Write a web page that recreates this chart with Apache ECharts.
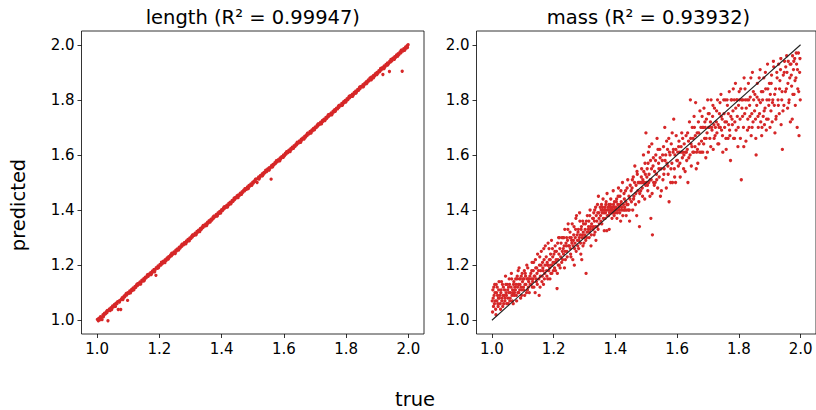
<!DOCTYPE html>
<html>
<head>
<meta charset="utf-8">
<script src="https://cdn.jsdelivr.net/npm/echarts@6/dist/echarts.min.js"></script>
<style>html,body{margin:0;padding:0;background:#fff}#c{width:816px;height:410px}</style>
</head>
<body>
<div id="c"></div>
<script>
const titles = ["length (R\u00b2 = 0.99947)", "mass (R\u00b2 = 0.93932)"];
const xLabel = "true";
const yLabel = "predicted";
const tickValues = [1.0, 1.2, 1.4, 1.6, 1.8, 2.0];
const identityLine = [[1, 1], [2, 2]];

const lengthPoints = [
[1.001,1.003],[1.004,0.998],[1.006,1.007],[1.009,1.005],[1.011,1.013],[1.014,1.010],[1.016,1.002],[1.019,1.020],[1.022,1.018],[1.024,1.026],[1.027,1.023],[1.030,1.031],[1.032,1.028],[1.035,0.998],[1.037,1.036],[1.040,1.041],[1.042,1.035],[1.045,1.046],[1.048,1.045],[1.050,1.052],[1.053,1.049],[1.056,1.057],[1.058,1.053],[1.061,1.062],[1.064,1.060],[1.066,1.067],[1.068,1.039],[1.071,1.070],[1.074,1.072],[1.076,1.039],[1.078,1.076],[1.081,1.082],[1.084,1.080],[1.087,1.088],[1.089,1.085],[1.092,1.093],[1.095,1.091],[1.098,1.072],[1.099,1.100],[1.102,1.098],[1.105,1.106],[1.108,1.104],[1.111,1.112],[1.113,1.108],[1.116,1.117],[1.119,1.115],[1.122,1.123],[1.124,1.119],[1.127,1.128],[1.130,1.126],[1.133,1.134],[1.136,1.131],[1.138,1.139],[1.141,1.137],[1.144,1.145],[1.147,1.142],[1.150,1.151],[1.152,1.147],[1.155,1.156],[1.158,1.154],[1.161,1.162],[1.164,1.159],[1.166,1.167],[1.169,1.165],[1.172,1.173],[1.175,1.170],[1.178,1.179],[1.180,1.176],[1.183,1.184],[1.186,1.182],[1.189,1.163],[1.190,1.191],[1.193,1.188],[1.196,1.197],[1.199,1.195],[1.202,1.203],[1.205,1.200],[1.208,1.209],[1.210,1.206],[1.213,1.214],[1.216,1.212],[1.219,1.220],[1.222,1.217],[1.225,1.226],[1.227,1.223],[1.230,1.231],[1.233,1.229],[1.236,1.237],[1.239,1.234],[1.241,1.242],[1.244,1.240],[1.247,1.248],[1.250,1.245],[1.253,1.254],[1.255,1.251],[1.258,1.259],[1.261,1.257],[1.264,1.265],[1.267,1.262],[1.270,1.271],[1.272,1.268],[1.275,1.276],[1.278,1.274],[1.281,1.282],[1.284,1.279],[1.287,1.288],[1.289,1.285],[1.292,1.293],[1.295,1.291],[1.298,1.299],[1.301,1.296],[1.304,1.305],[1.306,1.302],[1.309,1.310],[1.312,1.308],[1.315,1.316],[1.318,1.313],[1.321,1.322],[1.323,1.319],[1.326,1.327],[1.329,1.325],[1.332,1.333],[1.335,1.330],[1.338,1.339],[1.340,1.336],[1.343,1.344],[1.346,1.342],[1.349,1.350],[1.352,1.347],[1.355,1.356],[1.357,1.353],[1.360,1.361],[1.363,1.359],[1.366,1.367],[1.369,1.364],[1.372,1.373],[1.374,1.370],[1.377,1.378],[1.380,1.376],[1.383,1.384],[1.386,1.381],[1.389,1.390],[1.391,1.387],[1.394,1.395],[1.397,1.393],[1.400,1.401],[1.403,1.398],[1.406,1.407],[1.408,1.404],[1.411,1.412],[1.414,1.410],[1.417,1.418],[1.420,1.415],[1.423,1.424],[1.425,1.421],[1.428,1.429],[1.431,1.427],[1.434,1.435],[1.437,1.432],[1.440,1.441],[1.442,1.438],[1.445,1.446],[1.448,1.444],[1.450,1.452],[1.451,1.447],[1.454,1.455],[1.457,1.453],[1.460,1.461],[1.463,1.458],[1.466,1.467],[1.468,1.464],[1.471,1.472],[1.474,1.470],[1.477,1.478],[1.480,1.475],[1.483,1.484],[1.485,1.481],[1.488,1.489],[1.491,1.487],[1.494,1.495],[1.497,1.492],[1.500,1.501],[1.502,1.498],[1.505,1.506],[1.508,1.504],[1.511,1.512],[1.514,1.500],[1.516,1.514],[1.519,1.520],[1.522,1.517],[1.525,1.526],[1.528,1.524],[1.531,1.532],[1.534,1.529],[1.536,1.537],[1.539,1.535],[1.542,1.543],[1.545,1.540],[1.548,1.549],[1.551,1.546],[1.553,1.554],[1.556,1.552],[1.559,1.512],[1.560,1.561],[1.562,1.557],[1.565,1.566],[1.568,1.564],
[1.571,1.572],[1.573,1.569],[1.576,1.577],[1.579,1.575],[1.582,1.583],[1.585,1.580],[1.588,1.589],[1.590,1.586],[1.593,1.594],[1.596,1.592],[1.599,1.600],[1.602,1.597],[1.605,1.606],[1.607,1.603],[1.610,1.611],[1.613,1.609],[1.616,1.617],[1.619,1.614],[1.622,1.623],[1.624,1.620],[1.627,1.628],[1.630,1.626],[1.633,1.634],[1.636,1.631],[1.639,1.640],[1.641,1.637],[1.644,1.645],[1.647,1.643],[1.650,1.651],[1.653,1.648],[1.656,1.657],[1.658,1.654],[1.661,1.662],[1.664,1.660],[1.667,1.668],[1.670,1.665],[1.673,1.674],[1.675,1.671],[1.678,1.679],[1.681,1.677],[1.684,1.685],[1.687,1.682],[1.690,1.691],[1.692,1.688],[1.695,1.696],[1.698,1.694],[1.701,1.702],[1.704,1.699],[1.707,1.708],[1.709,1.705],[1.712,1.713],[1.715,1.711],[1.718,1.719],[1.721,1.716],[1.724,1.725],[1.726,1.722],[1.729,1.730],[1.732,1.728],[1.735,1.736],[1.738,1.733],[1.741,1.742],[1.743,1.739],[1.746,1.747],[1.749,1.745],[1.752,1.753],[1.755,1.750],[1.758,1.759],[1.760,1.756],[1.763,1.764],[1.766,1.762],[1.769,1.770],[1.772,1.767],[1.775,1.776],[1.777,1.773],[1.780,1.781],[1.783,1.779],[1.786,1.787],[1.789,1.784],[1.792,1.793],[1.794,1.790],[1.797,1.798],[1.800,1.796],[1.803,1.804],[1.806,1.801],[1.809,1.810],[1.811,1.807],[1.814,1.815],[1.817,1.813],[1.820,1.821],[1.823,1.818],[1.826,1.827],[1.828,1.824],[1.831,1.832],[1.834,1.830],[1.837,1.838],[1.840,1.835],[1.843,1.844],[1.845,1.841],[1.848,1.849],[1.851,1.847],[1.854,1.855],[1.857,1.852],[1.860,1.861],[1.862,1.858],[1.865,1.866],[1.868,1.864],[1.871,1.872],[1.874,1.869],[1.877,1.878],[1.879,1.875],[1.881,1.873],[1.882,1.883],[1.885,1.881],[1.888,1.889],[1.891,1.886],[1.894,1.895],[1.896,1.892],[1.899,1.900],[1.902,1.897],[1.905,1.906],[1.908,1.903],[1.911,1.912],[1.913,1.909],[1.916,1.917],[1.918,1.892],[1.919,1.914],[1.922,1.923],[1.925,1.920],[1.928,1.929],[1.930,1.926],[1.933,1.934],[1.936,1.931],[1.939,1.903],[1.940,1.940],[1.942,1.937],[1.945,1.946],[1.947,1.942],[1.950,1.951],[1.953,1.948],[1.956,1.957],[1.959,1.954],[1.962,1.963],[1.964,1.959],[1.967,1.968],[1.970,1.965],[1.973,1.974],[1.976,1.971],[1.979,1.980],[1.980,1.904],[1.982,1.977],[1.985,1.986],[1.988,1.983],[1.991,1.992],[1.993,1.988],[1.996,1.997],[1.999,2.000],
[1.008,1.001],[1.020,1.012],[1.033,1.036],[1.047,1.039],[1.059,1.050],[1.072,1.066],[1.083,1.075],[1.094,1.097],[1.107,1.099],[1.118,1.110],[1.129,1.132],[1.140,1.131],[1.151,1.143],[1.162,1.165],[1.174,1.166],[1.185,1.176],[1.197,1.190],[1.207,1.211],[1.218,1.209],[1.229,1.222],[1.240,1.243],[1.251,1.242],[1.262,1.255],[1.273,1.276],[1.285,1.277],[1.296,1.288],[1.307,1.310],[1.318,1.310],[1.330,1.322],[1.341,1.344],[1.352,1.344],[1.363,1.356],[1.375,1.378],[1.386,1.378],[1.397,1.389],[1.408,1.411],[1.419,1.411],[1.430,1.423],[1.441,1.444],[1.453,1.445],[1.464,1.457],[1.475,1.478],[1.486,1.478],[1.497,1.490],[1.509,1.512],[1.520,1.512],[1.531,1.524],[1.542,1.545],[1.553,1.545],[1.564,1.557],[1.576,1.579],[1.587,1.579],[1.598,1.591],[1.609,1.612],[1.620,1.612],[1.631,1.624],[1.643,1.646],[1.654,1.646],[1.665,1.658],[1.676,1.679],[1.687,1.679],[1.698,1.691],[1.710,1.713],[1.721,1.713],[1.732,1.725],[1.743,1.746],[1.754,1.746],[1.765,1.758],[1.777,1.780],[1.788,1.780],[1.799,1.792],[1.810,1.813],[1.821,1.813],[1.832,1.825],[1.844,1.847],[1.855,1.847],[1.866,1.859],[1.877,1.880],[1.888,1.880],[1.899,1.892],[1.911,1.914],[1.922,1.914],[1.933,1.926],[1.944,1.947],[1.955,1.947],[1.966,1.959],[1.977,1.980],[1.988,1.980],[1.997,1.990]
];

const massPoints = [
[1.002,1.03],[1.004,1.08],[1.006,1.12],[1.008,1.06],[1.010,1.10],[1.012,1.04],[1.014,1.13],[1.016,1.07],[1.018,1.09],[1.020,1.05],[1.022,1.11],[1.024,1.08],
[1.027,1.06],[1.029,1.10],[1.031,1.14],[1.033,1.08],[1.035,1.05],[1.037,1.12],[1.040,1.09],[1.042,1.07],[1.044,1.16],[1.046,1.10],[1.048,1.06],[1.049,1.13],
[1.052,1.08],[1.054,1.12],[1.056,1.15],[1.058,1.07],[1.060,1.10],[1.063,1.17],[1.065,1.09],[1.067,1.11],[1.069,1.06],[1.071,1.14],[1.073,1.10],[1.074,1.12],
[1.077,1.15],[1.079,1.09],[1.081,1.15],[1.083,1.12],[1.085,1.18],[1.087,1.10],[1.089,1.15],[1.091,1.13],[1.093,1.08],[1.095,1.16],[1.097,1.11],[1.099,1.14],
[1.102,1.12],[1.104,1.15],[1.106,1.09],[1.108,1.17],[1.110,1.13],[1.113,1.20],[1.115,1.11],[1.117,1.15],[1.119,1.14],[1.121,1.10],[1.123,1.16],
[1.127,1.13],[1.129,1.18],[1.131,1.12],[1.133,1.15],[1.135,1.21],[1.137,1.16],[1.140,1.10],[1.142,1.19],[1.144,1.14],[1.146,1.17],[1.148,1.24],
[1.152,1.15],[1.153,1.09],[1.154,1.20],[1.156,1.12],[1.158,1.18],[1.160,1.25],[1.163,1.16],[1.165,1.19],[1.167,1.13],[1.169,1.22],[1.171,1.17],[1.173,1.27],
[1.177,1.18],[1.179,1.21],[1.181,1.15],[1.183,1.20],[1.185,1.26],[1.187,1.19],[1.189,1.22],[1.191,1.17],[1.193,1.29],[1.195,1.20],[1.197,1.23],[1.199,1.18],
[1.202,1.21],[1.204,1.25],[1.206,1.18],[1.208,1.22],[1.211,1.115],[1.213,1.28],[1.215,1.20],[1.217,1.24],[1.219,1.30],[1.221,1.19],[1.223,1.23],
[1.227,1.30],[1.229,1.22],[1.231,1.26],[1.233,1.30],[1.235,1.19],[1.237,1.25],[1.240,1.28],[1.242,1.30],[1.244,1.23],[1.246,1.33],[1.248,1.27],
[1.252,1.30],[1.254,1.26],[1.256,1.23],[1.258,1.29],[1.260,1.35],[1.263,1.27],[1.265,1.31],[1.267,1.20],[1.269,1.28],[1.271,1.33],[1.273,1.25],[1.274,1.38],
[1.277,1.29],[1.279,1.32],[1.281,1.26],[1.283,1.30],[1.285,1.36],[1.287,1.28],[1.289,1.33],[1.291,1.22],[1.293,1.31],[1.295,1.27],[1.297,1.35],[1.299,1.30],
[1.302,1.33],[1.304,1.29],[1.305,1.17],[1.306,1.36],[1.308,1.32],[1.313,1.34],[1.315,1.30],[1.317,1.38],[1.319,1.33],[1.321,1.27],[1.323,1.35],
[1.327,1.33],[1.329,1.37],[1.331,1.31],[1.333,1.40],[1.335,1.34],[1.337,1.29],[1.340,1.36],[1.342,1.42],[1.344,1.33],[1.346,1.39],[1.348,1.35],
[1.352,1.38],[1.354,1.40],[1.356,1.35],[1.358,1.41],[1.360,1.44],[1.363,1.39],[1.364,1.325],[1.365,1.40],[1.367,1.37],[1.369,1.42],[1.371,1.40],[1.372,1.325],[1.373,1.46],[1.374,1.38],
[1.377,1.40],[1.379,1.42],[1.380,1.33],[1.381,1.39],[1.383,1.41],[1.385,1.44],[1.386,1.41],[1.387,1.40],[1.389,1.37],[1.391,1.41],[1.392,1.39],[1.393,1.47],[1.395,1.40],[1.397,1.43],[1.399,1.39],
[1.402,1.41],[1.404,1.44],[1.406,1.39],[1.408,1.42],[1.410,1.48],[1.413,1.40],[1.415,1.45],[1.417,1.36],[1.419,1.43],[1.421,1.40],[1.423,1.50],
[1.427,1.40],[1.429,1.44],[1.431,1.40],[1.433,1.47],[1.435,1.38],[1.437,1.42],[1.440,1.51],[1.442,1.40],[1.444,1.45],[1.446,1.36],[1.448,1.49],
[1.452,1.43],[1.454,1.48],[1.456,1.40],[1.458,1.52],[1.460,1.45],[1.463,1.56],[1.465,1.42],[1.467,1.49],[1.469,1.38],[1.471,1.53],[1.473,1.47],
[1.477,1.50],[1.478,1.34],[1.479,1.46],[1.483,1.50],[1.485,1.55],[1.487,1.48],[1.489,1.51],[1.491,1.60],[1.493,1.50],[1.495,1.44],[1.497,1.53],[1.499,1.68],
[1.502,1.52],[1.504,1.49],[1.506,1.57],[1.508,1.50],[1.510,1.63],[1.513,1.51],[1.515,1.37],[1.517,1.55],[1.519,1.46],[1.520,1.31],[1.523,1.59],[1.524,1.50],
[1.527,1.54],[1.529,1.50],[1.531,1.60],[1.533,1.53],[1.535,1.66],[1.537,1.48],[1.540,1.57],[1.542,1.52],[1.544,1.62],[1.546,1.45],[1.548,1.55],
[1.552,1.58],[1.554,1.51],[1.556,1.63],[1.558,1.55],[1.560,1.70],[1.563,1.60],[1.565,1.48],[1.567,1.57],[1.569,1.62],[1.571,1.53],[1.573,1.66],[1.574,1.43],
[1.577,1.60],[1.579,1.50],[1.581,1.64],[1.583,1.57],[1.585,1.50],[1.587,1.61],[1.589,1.73],[1.591,1.55],[1.593,1.60],[1.595,1.50],[1.597,1.67],[1.599,1.58],
[1.602,1.61],[1.604,1.56],[1.606,1.65],[1.608,1.61],[1.610,1.52],[1.613,1.63],[1.615,1.68],[1.617,1.59],[1.619,1.61],[1.621,1.55],[1.623,1.64],
[1.627,1.61],[1.629,1.67],[1.631,1.58],[1.633,1.62],[1.635,1.50],[1.637,1.65],[1.640,1.72],[1.642,1.60],[1.643,1.80],[1.644,1.66],[1.646,1.56],[1.648,1.63],
[1.652,1.66],[1.654,1.61],[1.656,1.70],[1.658,1.63],[1.660,1.79],[1.663,1.61],[1.665,1.68],[1.667,1.57],[1.669,1.72],[1.671,1.64],[1.673,1.61],
[1.677,1.70],[1.679,1.65],[1.681,1.74],[1.683,1.61],[1.685,1.70],[1.687,1.77],[1.689,1.66],[1.691,1.70],[1.693,1.59],[1.695,1.73],[1.697,1.68],[1.699,1.80],
[1.702,1.70],[1.704,1.75],[1.706,1.66],[1.708,1.72],[1.710,1.80],[1.713,1.69],[1.715,1.74],[1.717,1.62],[1.719,1.71],[1.721,1.77],[1.723,1.67],
[1.727,1.72],[1.729,1.68],[1.731,1.80],[1.733,1.71],[1.735,1.64],[1.737,1.75],[1.740,1.70],[1.742,1.82],[1.744,1.69],[1.746,1.73],[1.748,1.61],
[1.752,1.75],[1.754,1.70],[1.756,1.80],[1.758,1.66],[1.760,1.72],[1.763,1.78],[1.765,1.66],[1.767,1.71],[1.769,1.83],[1.771,1.67],[1.773,1.58],[1.774,1.74],
[1.777,1.80],[1.779,1.71],[1.781,1.76],[1.783,1.66],[1.785,1.80],[1.787,1.72],[1.789,1.86],[1.791,1.69],[1.793,1.80],[1.795,1.74],[1.797,1.63],[1.799,1.78],
[1.802,1.80],[1.804,1.73],[1.806,1.84],[1.808,1.51],[1.810,1.77],[1.813,1.80],[1.815,1.70],[1.817,1.88],[1.819,1.75],[1.821,1.80],[1.823,1.65],
[1.827,1.80],[1.829,1.73],[1.831,1.86],[1.833,1.70],[1.835,1.78],[1.837,1.81],[1.840,1.67],[1.842,1.75],[1.844,1.90],[1.846,1.72],[1.848,1.80],
[1.852,1.82],[1.854,1.73],[1.856,1.60],[1.858,1.78],[1.860,1.86],[1.863,1.70],[1.865,1.80],[1.867,1.75],[1.869,1.91],[1.871,1.72],[1.873,1.83],[1.874,1.67],
[1.877,1.80],[1.879,1.74],[1.881,1.88],[1.883,1.71],[1.885,1.77],[1.887,1.84],[1.889,1.69],[1.891,1.80],[1.893,1.93],[1.895,1.73],[1.897,1.78],[1.899,1.86],
[1.902,1.82],[1.904,1.76],[1.906,1.89],[1.908,1.72],[1.910,1.80],[1.913,1.92],[1.915,1.78],[1.917,1.68],[1.919,1.84],[1.921,1.74],[1.923,1.90],
[1.927,1.80],[1.929,1.93],[1.931,1.75],[1.933,1.87],[1.935,1.91],[1.937,1.71],[1.940,1.83],[1.941,1.62],[1.944,1.89],[1.946,1.78],[1.948,1.94],
[1.952,1.92],[1.954,1.84],[1.956,1.90],[1.958,1.77],[1.960,1.94],[1.963,1.80],[1.965,1.88],[1.967,1.72],[1.969,1.93],[1.971,1.85],[1.973,1.73],[1.974,1.96],
[1.977,1.91],[1.979,1.82],[1.981,1.95],[1.983,1.78],[1.985,1.88],[1.987,1.93],[1.989,1.70],[1.991,1.84],[1.993,1.97],[1.995,1.67],[1.997,1.90],[1.999,1.80],
[1.001,1.07],[1.003,1.11],[1.005,1.05],[1.007,1.09],[1.009,1.13],[1.011,1.07],[1.013,1.02],[1.015,1.10],[1.017,1.12],[1.019,1.06],[1.021,1.08],[1.023,1.14],[1.026,1.09],[1.028,1.04],[1.030,1.11],[1.032,1.07],[1.034,1.13],[1.036,1.09],[1.038,1.06],[1.041,1.11],[1.043,1.08],[1.045,1.13],[1.047,1.09],[1.051,1.11],[1.053,1.06],[1.055,1.10],[1.057,1.13],[1.059,1.08],[1.062,1.12],[1.064,1.15],[1.066,1.07],[1.068,1.10],[1.070,1.13],[1.072,1.09],[1.076,1.11],[1.078,1.13],[1.080,1.07],[1.082,1.16],[1.084,1.10],[1.086,1.13],[1.088,1.19],[1.090,1.11],[1.092,1.15],[1.094,1.12],[1.096,1.09],[1.098,1.17],
[1.101,1.15],[1.103,1.11],[1.105,1.18],[1.107,1.13],[1.109,1.16],[1.112,1.10],[1.114,1.15],[1.116,1.19],[1.118,1.12],[1.120,1.15],[1.124,1.13],[1.126,1.17],[1.128,1.15],[1.130,1.21],[1.132,1.14],[1.134,1.18],[1.136,1.12],[1.139,1.16],[1.141,1.22],[1.143,1.15],[1.145,1.19],[1.147,1.13],[1.151,1.18],[1.155,1.23],[1.157,1.16],[1.159,1.20],[1.162,1.14],[1.164,1.21],[1.166,1.18],[1.168,1.26],[1.170,1.15],[1.172,1.20],[1.176,1.23],[1.178,1.16],[1.180,1.20],[1.182,1.28],[1.184,1.18],[1.186,1.22],[1.188,1.15],[1.190,1.24],[1.192,1.20],[1.194,1.17],[1.196,1.26],[1.198,1.21],
[1.201,1.24],[1.203,1.19],[1.205,1.27],[1.207,1.21],[1.209,1.25],[1.212,1.17],[1.214,1.22],[1.216,1.30],[1.218,1.20],[1.220,1.26],[1.224,1.28],[1.226,1.21],[1.228,1.25],[1.230,1.30],[1.232,1.24],[1.234,1.27],[1.236,1.33],[1.238,1.22],[1.241,1.27],[1.243,1.25],[1.245,1.29],[1.247,1.35],[1.251,1.27],[1.253,1.32],[1.255,1.24],[1.257,1.30],[1.259,1.28],[1.262,1.22],[1.264,1.29],[1.266,1.34],[1.268,1.26],[1.270,1.30],[1.272,1.37],[1.276,1.31],[1.278,1.27],[1.280,1.33],[1.282,1.29],[1.284,1.39],[1.286,1.31],[1.288,1.24],[1.290,1.34],[1.292,1.30],[1.294,1.36],[1.296,1.32],[1.298,1.28],
[1.301,1.31],[1.303,1.35],[1.307,1.30],[1.309,1.38],[1.312,1.33],[1.314,1.36],[1.316,1.32],[1.318,1.40],[1.320,1.34],[1.322,1.31],[1.326,1.37],[1.328,1.34],[1.330,1.39],[1.332,1.36],[1.334,1.32],[1.336,1.41],[1.338,1.38],[1.341,1.34],[1.343,1.39],[1.345,1.45],[1.347,1.37],[1.351,1.41],[1.353,1.36],[1.355,1.42],[1.357,1.39],[1.359,1.40],[1.361,1.37],[1.366,1.41],[1.368,1.39],[1.370,1.43],[1.376,1.41],[1.378,1.38],[1.382,1.40],[1.384,1.42],[1.388,1.39],[1.390,1.40],[1.394,1.42],[1.396,1.38],[1.398,1.41],[1.401,1.40],[1.403,1.43],[1.405,1.37],[1.407,1.40],[1.409,1.45],[1.412,1.41],[1.414,1.39],[1.416,1.42],[1.418,1.47],[1.420,1.41],[1.424,1.38],[1.426,1.42],[1.428,1.46],[1.430,1.41],[1.434,1.43],[1.436,1.40],[1.438,1.48],[1.441,1.42],[1.445,1.40],[1.447,1.44],
[1.451,1.47],[1.455,1.51],[1.459,1.44],[1.462,1.50],[1.466,1.46],[1.470,1.54],[1.474,1.50],[1.476,1.43],[1.480,1.50],[1.482,1.47],[1.484,1.52],[1.486,1.50],[1.488,1.45],[1.490,1.50],[1.492,1.54],[1.494,1.50],[1.496,1.57],[1.498,1.49],[1.501,1.50],[1.503,1.55],[1.505,1.47],[1.507,1.61],[1.509,1.53],[1.512,1.45],[1.514,1.58],[1.516,1.51],[1.518,1.64],[1.522,1.56],[1.526,1.49],[1.530,1.58],[1.534,1.51],[1.538,1.62],[1.541,1.55],[1.545,1.59],[1.549,1.47],[1.553,1.60],[1.557,1.53],[1.561,1.58],[1.566,1.65],[1.570,1.56],[1.575,1.61],[1.580,1.55],[1.584,1.68],[1.588,1.62],[1.592,1.52],[1.596,1.62],[1.601,1.58],[1.605,1.63],[1.609,1.57],[1.614,1.61],[1.618,1.66],[1.622,1.60],[1.626,1.54],[1.630,1.61],[1.634,1.68],[1.638,1.59],[1.645,1.64],[1.649,1.70],
[1.651,1.61],[1.655,1.74],[1.659,1.67],[1.662,1.55],[1.666,1.62],[1.670,1.68],[1.674,1.76],[1.678,1.61],[1.682,1.70],[1.686,1.64],[1.690,1.72],[1.694,1.66],[1.698,1.61],[1.701,1.75],[1.705,1.70],[1.709,1.63],[1.712,1.70],[1.716,1.78],[1.720,1.66],[1.724,1.70],[1.728,1.76],[1.732,1.64],[1.736,1.70],[1.739,1.79],[1.743,1.74],[1.747,1.67],[1.751,1.80],[1.755,1.72],[1.759,1.62],[1.762,1.80],[1.766,1.75],[1.770,1.69],[1.775,1.80],[1.778,1.73],[1.782,1.84],[1.786,1.66],[1.790,1.77],[1.794,1.80],[1.798,1.70],[1.801,1.83],[1.805,1.66],[1.809,1.80],[1.812,1.74],[1.816,1.63],[1.820,1.84],[1.824,1.77],[1.828,1.69],[1.832,1.80],[1.836,1.74],[1.839,1.88],[1.843,1.70],[1.847,1.83],[1.851,1.76],[1.855,1.66],[1.859,1.81],[1.862,1.74],[1.866,1.88],[1.870,1.79],[1.875,1.70],[1.878,1.83],[1.882,1.76],[1.886,1.90],[1.890,1.73],[1.894,1.84],[1.898,1.80],[1.901,1.70],[1.905,1.86],[1.909,1.79],[1.912,1.94],[1.916,1.82],[1.920,1.73],[1.924,1.88],[1.928,1.78],[1.932,1.84],[1.936,1.95],[1.939,1.80],[1.943,1.76],[1.947,1.90],[1.951,1.83],[1.955,1.96],[1.959,1.86],[1.962,1.79],[1.966,1.93],[1.970,1.89],[1.975,1.82],[1.978,1.94],[1.982,1.87],[1.986,1.97],[1.990,1.91],[1.994,1.83],[1.998,1.95]
];

const FONT = "DejaVu Sans";
const RED = "#d62728";

function makeAxis(gridIndex, pos) {
  return {
    type: "value", gridIndex: gridIndex, position: pos,
    min: 0.95, max: 2.05,
    axisLine: { show: false },
    splitLine: { show: false },
    axisTick: { show: true, inside: false, length: 4, customValues: tickValues, lineStyle: { color: "#000", width: 0.8 } },
    axisLabel: {
      show: true, customValues: tickValues, margin: 7,
      color: "#000", fontFamily: FONT, fontSize: 15,
      formatter: function (v) { return Number(v).toFixed(1); }
    }
  };
}

const chart = echarts.init(document.getElementById("c"), null, { renderer: "svg", width: 816, height: 410 });
chart.setOption({
  animation: false,
  backgroundColor: "#fff",
  grid: [
    { left: 81.5, top: 31, width: 342.5, height: 303, show: true, borderColor: "#000", borderWidth: 0.8, backgroundColor: "transparent" },
    { left: 476.5, top: 31, width: 344, height: 303, show: true, borderColor: "#000", borderWidth: 0.8, backgroundColor: "transparent" }
  ],
  xAxis: [makeAxis(0, "bottom"), makeAxis(1, "bottom")],
  yAxis: [makeAxis(0, "left"), makeAxis(1, "left")],
  graphic: [
    { type: "text", x: 252.8, y: 17, style: { text: titles[0], font: "19.5px " + FONT, fill: "#000", align: "center", verticalAlign: "middle" } },
    { type: "text", x: 648.5, y: 17, style: { text: titles[1], font: "19.5px " + FONT, fill: "#000", align: "center", verticalAlign: "middle" } },
    { type: "text", x: 415, y: 399, style: { text: xLabel, font: "19.5px " + FONT, fill: "#000", align: "center", verticalAlign: "middle" } },
    { type: "text", x: 18, y: 205, rotation: Math.PI / 2, style: { text: yLabel, font: "19.5px " + FONT, fill: "#000", align: "center", verticalAlign: "middle" } }
  ],
  series: [
    { type: "line", xAxisIndex: 0, yAxisIndex: 0, data: identityLine, symbol: "none", z: 1, lineStyle: { color: "#222", width: 1 }, silent: true },
    { type: "scatter", xAxisIndex: 0, yAxisIndex: 0, data: lengthPoints, symbolSize: 3.3, z: 2, itemStyle: { color: RED, opacity: 1 }, silent: true },
    { type: "scatter", xAxisIndex: 1, yAxisIndex: 1, data: massPoints, symbolSize: 3.3, z: 2, itemStyle: { color: RED, opacity: 1 }, silent: true },
    { type: "line", xAxisIndex: 1, yAxisIndex: 1, data: identityLine, symbol: "none", z: 3, lineStyle: { color: "#222", width: 1.1 }, silent: true }
  ]
});
</script>
</body>
</html>
